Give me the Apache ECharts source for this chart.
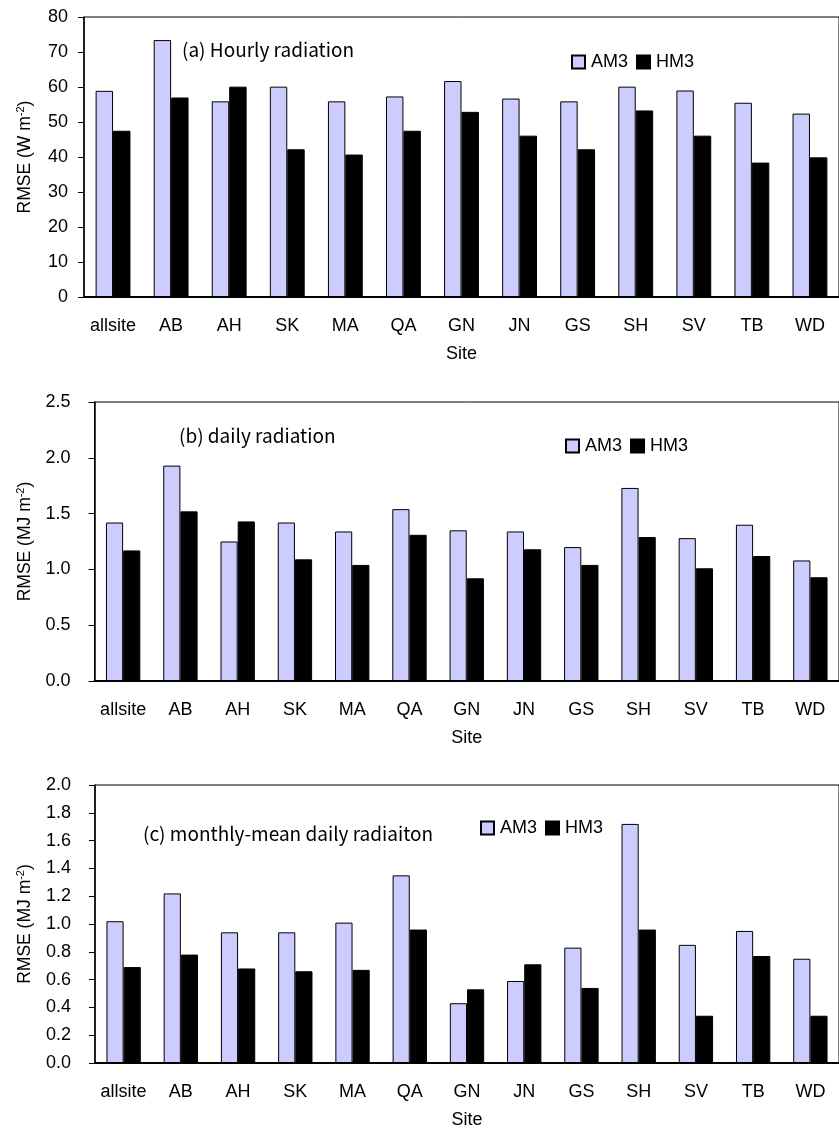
<!DOCTYPE html>
<html>
<head>
<meta charset="utf-8">
<script src="https://cdn.jsdelivr.net/npm/echarts@6/dist/echarts.min.js"></script>
<style>
  html, body { margin: 0; padding: 0; background: #fff; }
  #main { width: 839px; height: 1130px; }
</style>
</head>
<body>
<div id="main"></div>
<script>
// sites on the x axis
var sites = ['allsite', 'AB', 'AH', 'SK', 'MA', 'QA', 'GN', 'JN', 'GS', 'SH', 'SV', 'TB', 'WD'];

// (a) hourly radiation, W m-2
var hourlyAM3 = [58.9, 73.4, 55.9, 60.1, 55.9, 57.3, 61.7, 56.7, 55.9, 60.1, 59.0, 55.5, 52.4];
var hourlyHM3 = [47.5, 57.0, 60.1, 42.2, 40.7, 47.5, 52.9, 46.1, 42.2, 53.3, 46.1, 38.4, 39.9];

// (b) daily radiation, MJ m-2
var dailyAM3 = [1.42, 1.93, 1.25, 1.42, 1.34, 1.54, 1.35, 1.34, 1.20, 1.73, 1.28, 1.40, 1.08];
var dailyHM3 = [1.17, 1.52, 1.43, 1.09, 1.04, 1.31, 0.92, 1.18, 1.04, 1.29, 1.01, 1.12, 0.93];

// (c) monthly-mean daily radiation, MJ m-2
var monthlyAM3 = [1.02, 1.22, 0.94, 0.94, 1.01, 1.35, 0.43, 0.59, 0.83, 1.72, 0.85, 0.95, 0.75];
var monthlyHM3 = [0.69, 0.78, 0.68, 0.66, 0.67, 0.96, 0.53, 0.71, 0.54, 0.96, 0.34, 0.77, 0.34];

var latin = 'Liberation Sans, Arial, sans-serif';
var jp = '"Noto Sans CJK JP", sans-serif';

function xAx(idx) {
  return {
    type: 'category', gridIndex: idx, data: sites,
    name: 'Site', nameLocation: 'middle', nameGap: 48,
    nameTextStyle: { fontSize: 18, fontFamily: latin, color: '#000' },
    axisLine: { lineStyle: { color: '#000', width: 2 } },
    axisTick: { inside: true, length: 5, lineStyle: { color: '#000' } },
    axisLabel: { margin: 20, fontSize: 18, fontFamily: latin, color: '#000', interval: 0 }
  };
}

function yAx(idx, max, step, unit, gap, margin, dec) {
  return {
    type: 'value', gridIndex: idx, min: 0, max: max, interval: step,
    name: '{n|RMSE (' + unit + ' m}{s|-2}{n|)}', nameLocation: 'middle', nameGap: gap,
    nameTextStyle: {
      fontFamily: latin, color: '#000',
      rich: {
        n: { fontSize: 17.5, fontFamily: latin, color: '#000', lineHeight: 20 },
        s: { fontSize: 11, fontFamily: latin, color: '#000', verticalAlign: 'top', lineHeight: 11 }
      }
    },
    axisLine: { show: true, lineStyle: { color: '#000', width: 1.5 } },
    axisTick: { show: true, length: 6, lineStyle: { color: '#000' } },
    splitLine: { show: false },
    axisLabel: {
      margin: margin, fontSize: 18, fontFamily: latin, color: '#000',
      formatter: function (v) { return v.toFixed(dec); }
    }
  };
}

function bars(name, idx, data) {
  var am = name === 'AM3';
  return {
    name: name, type: 'bar', xAxisIndex: idx, yAxisIndex: idx, data: data,
    barGap: '0%', barCategoryGap: '40%',
    itemStyle: { color: am ? '#ccccff' : '#000', borderColor: '#000', borderWidth: 1 }
  };
}

function legendAt(left, top) {
  return {
    data: ['AM3', 'HM3'], left: left, top: top, orient: 'horizontal',
    icon: 'rect', itemWidth: 13, itemHeight: 13, itemGap: 8,
    selectedMode: false,
    textStyle: { fontSize: 18, fontFamily: latin, color: '#000', padding: [0, 0, 0, 1] }
  };
}

var myChart = echarts.init(document.getElementById('main'));
myChart.setOption({
  backgroundColor: '#fff',
  animation: false,
  grid: [
    { left: 84, top: 17, width: 761, height: 280, show: true, borderColor: '#000', borderWidth: 1 },
    { left: 94.5, top: 402, width: 752, height: 279, show: true, borderColor: '#000', borderWidth: 1 },
    { left: 95, top: 785, width: 751, height: 280, show: true, borderColor: '#000', borderWidth: 1 }
  ],
  legend: [legendAt(566, 48), legendAt(560, 432), legendAt(475, 814)],
  xAxis: [xAx(0), xAx(1), xAx(2)],
  yAxis: [
    yAx(0, 80, 10, 'W', 49, 16, 0),
    yAx(1, 2.5, 0.5, 'MJ', 59, 24, 1),
    yAx(2, 2.0, 0.2, 'MJ', 60, 24, 1)
  ],
  graphic: [
    { type: 'text', left: 182, top: 40, style: { text: '(a) Hourly radiation', fontSize: 19, fontFamily: jp, fill: '#000' } },
    { type: 'text', left: 179, top: 426, style: { text: '(b) daily radiation', fontSize: 19, fontFamily: jp, fill: '#000' } },
    { type: 'text', left: 143, top: 824, style: { text: '(c) monthly-mean daily radiaiton', fontSize: 19, fontFamily: jp, fill: '#000' } }
  ],
  series: [
    bars('AM3', 0, hourlyAM3), bars('HM3', 0, hourlyHM3),
    bars('AM3', 1, dailyAM3), bars('HM3', 1, dailyHM3),
    bars('AM3', 2, monthlyAM3), bars('HM3', 2, monthlyHM3)
  ]
});
</script>
</body>
</html>
